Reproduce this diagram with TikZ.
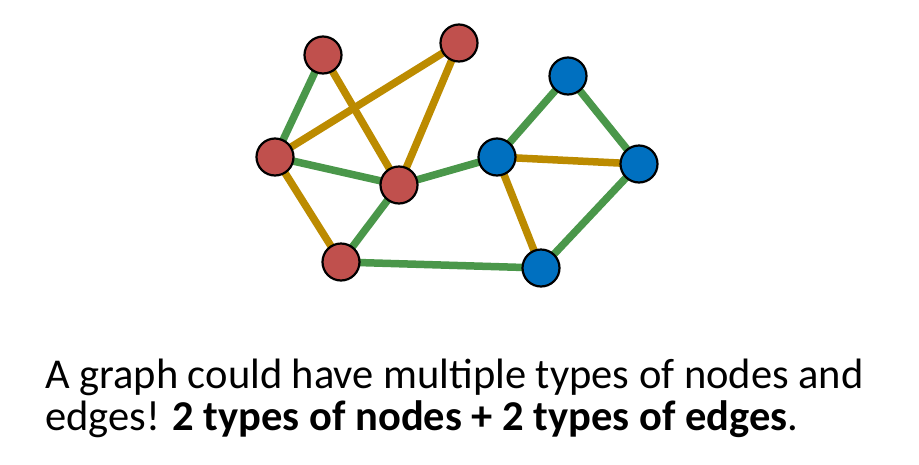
\documentclass[tikz,border=0pt]{standalone}
\usepackage{fontspec}
\setmainfont{Carlito}
\usetikzlibrary{backgrounds}
\definecolor{nodered}{HTML}{C0504D}
\definecolor{nodeblue}{HTML}{0070C0}
\definecolor{edgegreen}{HTML}{4A974A}
\definecolor{edgegold}{HTML}{BC8B00}
\tikzset{
  rednode/.style={circle, draw=black, line width=2.2pt, fill=nodered, minimum size=37pt, inner sep=0pt},
  bluenode/.style={circle, draw=black, line width=2.2pt, fill=nodeblue, minimum size=37pt, inner sep=0pt},
  greenedge/.style={edgegreen, line width=7.5pt},
  goldedge/.style={edgegold, line width=7.5pt},
}
\begin{document}
\begin{tikzpicture}[x=1pt, y=-1pt]
        \useasboundingbox (0,0) rectangle (919,464);
        % red nodes
        \node [rednode] (r1) at (323,55) {};
        \node [rednode] (r2) at (459,43) {};
        \node [rednode] (r3) at (275,157) {};
        \node [rednode] (r4) at (399,185) {};
        \node [rednode] (r5) at (341,262) {};
        % blue nodes
        \node [bluenode] (b1) at (568,76) {};
        \node [bluenode] (b2) at (497,157) {};
        \node [bluenode] (b3) at (639,164) {};
        \node [bluenode] (b4) at (541,268) {};
        % edges, behind the nodes
        \begin{pgfonlayer}{background}
        \draw [greenedge] (r1.center) -- (r3.center);
        \draw [greenedge] (r3.center) -- (r4.center);
        \draw [greenedge] (r4.center) -- (b2.center);
        \draw [greenedge] (r4.center) -- (r5.center);
        \draw [greenedge] (r5.center) -- (b4.center);
        \draw [greenedge] (b2.center) -- (b1.center);
        \draw [greenedge] (b1.center) -- (b3.center);
        \draw [greenedge] (b3.center) -- (b4.center);
        \draw [goldedge] (r1.center) -- (r4.center);
        \draw [goldedge] (r2.center) -- (r3.center);
        \draw [goldedge] (r2.center) -- (r4.center);
        \draw [goldedge] (r3.center) -- (r5.center);
        \draw [goldedge] (b2.center) -- (b3.center);
        \draw [goldedge] (b2.center) -- (b4.center);
        \end{pgfonlayer}
        % caption
        \node [anchor=base west, inner sep=0pt, font=\fontsize{42.5}{42}\selectfont] (line1) at (45,388) {A graph could have multiple types of nodes and};
        \node [anchor=base west, inner sep=0pt, font=\fontsize{42.5}{42}\selectfont] (line2) at (45,430) {edges! \textbf{2 types of nodes + 2 types of edges}.};
      \end{tikzpicture}
\end{document}
